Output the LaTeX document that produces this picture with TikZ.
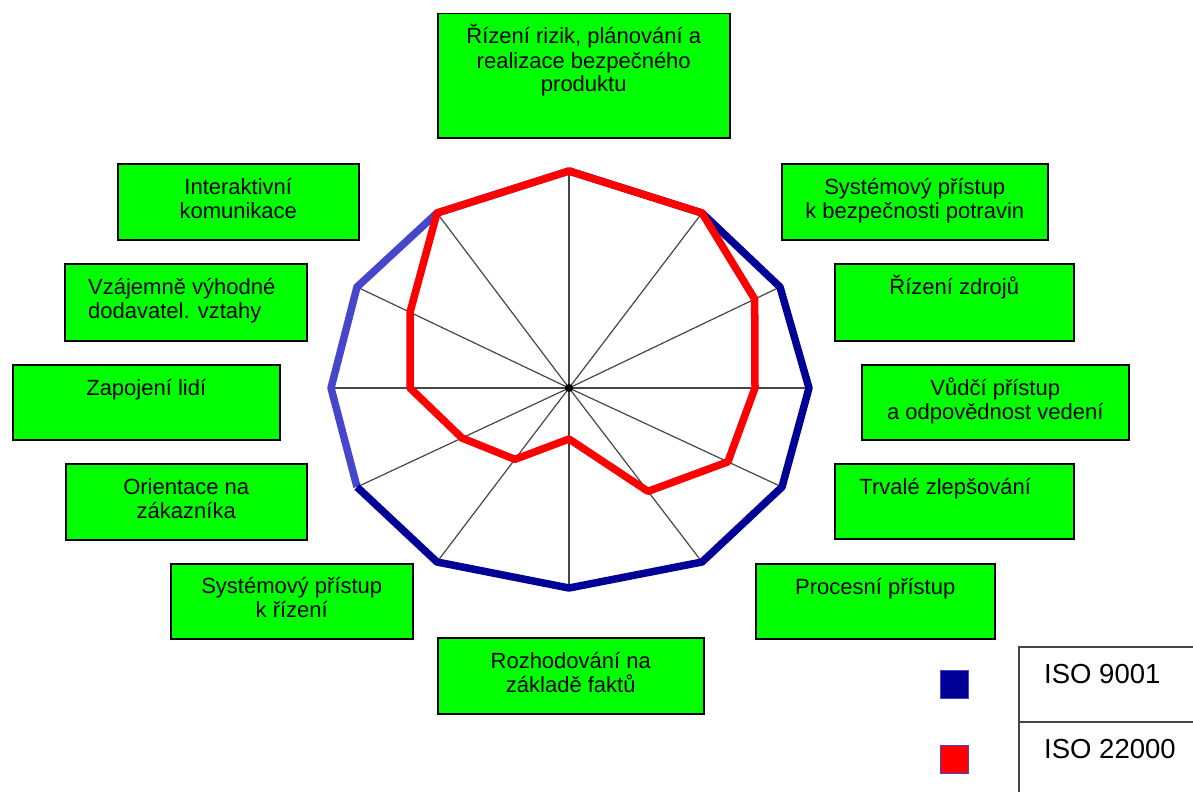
\documentclass[tikz,border=0pt]{standalone}
\usepackage{fontspec}
\setmainfont{Liberation Sans}
\usetikzlibrary{calc}
\definecolor{boxgreen}{RGB}{0,255,0}
\definecolor{isoblue}{RGB}{0,0,150}
\definecolor{isobluelight}{RGB}{70,70,205}
\definecolor{isored}{RGB}{255,0,0}
\definecolor{spokegray}{RGB}{70,70,70}
\newcommand{\boxfont}{\fontsize{22}{24}\selectfont}
\newcommand{\legfont}{\fontsize{27.5}{30}\selectfont}
\tikzset{
  box/.style={draw=black,line width=1.5pt,fill=boxgreen,anchor=north west,inner sep=0pt},
  txt/.style={anchor=base,align=center,inner sep=0pt,font=\boxfont},
  spoke/.style={spokegray,line width=1.2pt},
  isoline/.style={line width=7.5pt,line join=round},
  legsq/.style={minimum size=28pt,inner sep=0pt,draw=isobluelight,line width=1pt},
}
\begin{document}
\begin{tikzpicture}[x=1pt,y=-1pt]
\useasboundingbox (0,0) rectangle (1193,792);


\node [box,minimum width=292,minimum height=124](risk)  at (437,13) {};
\node [box,minimum width=241,minimum height=76](inter)  at (117,163) {};
\node [box,minimum width=242,minimum height=77](vzaj)  at (64,263) {};
\node [box,minimum width=267,minimum height=75](zapoj)  at (12,364) {};
\node [box,minimum width=241,minimum height=76](orient)  at (65,463) {};
\node [box,minimum width=242,minimum height=75](sysriz)  at (170,563) {};
\node [box,minimum width=266,minimum height=76](rozh)  at (437,637) {};
\node [box,minimum width=239,minimum height=75](proc)  at (755,563) {};
\node [box,minimum width=239,minimum height=75](trval)  at (834,463) {};
\node [box,minimum width=267,minimum height=75](vudci)  at (861,364) {};
\node [box,minimum width=239,minimum height=77](zdroj)  at (834,263) {};
\node [box,minimum width=266,minimum height=76](sysbez)  at (781,163) {};

\node [txt](risktxt)  at ([yshift=-79]risk.north) {Řízení rizik, plánování a\\realizace bezpečného\\produktu};
\node [txt](intertxt)  at ([yshift=-55]inter.north) {Interaktivní\\komunikace};
\node [txt,anchor=base west,align=left](vzajtxt)  at ([xshift=24,yshift=-55]vzaj.north west) {Vzájemně výhodné\\dodavatel. vztahy};
\node [txt](zapojtxt)  at ([yshift=-31]zapoj.north) {Zapojení lidí};
\node [txt](orienttxt)  at ([yshift=-55]orient.north) {Orientace na\\zákazníka};
\node [txt](sysriztxt)  at ([yshift=-54]sysriz.north) {Systémový přístup\\k řízení};
\node [txt](rozhtxt)  at ([yshift=-55]rozh.north) {Rozhodování na\\základě faktů};
\node [txt](proctxt)  at ([yshift=-31]proc.north) {Procesní přístup};
\node [txt](trvaltxt)  at ([xshift=-9,yshift=-31]trval.north) {Trvalé zlepšování};
\node [txt](vudcitxt)  at ([yshift=-55]vudci.north) {Vůdčí přístup\\a odpovědnost vedení};
\node [txt](zdrojtxt)  at ([yshift=-31]zdroj.north) {Řízení zdrojů};
\node [txt](sysbeztxt)  at ([yshift=-55]sysbez.north) {Systémový přístup\\k bezpečnosti potravin};


\coordinate (c) at (569,388);
\coordinate (p1) at (569,171);
\coordinate (p2) at (702,213);
\coordinate (p3) at (780,287);
\coordinate (p4) at (809,388);
\coordinate (p5) at (782,487);
\coordinate (p6) at (702,562);
\coordinate (p7) at (569,588);
\coordinate (p8) at (437,562);
\coordinate (p9) at (357,487);
\coordinate (p10) at (331,388);
\coordinate (p11) at (357,287);
\coordinate (p12) at (437,213);

\foreach \i in {1,...,12}
  \draw [spoke] (c)--(p\i);

\draw [isoline,isobluelight] (p9)--(p10)--(p11)--(p12)--(p1);
\draw [isoline,isoblue] (p1)--(p2)--(p3)--(p4)--(p5)--(p6)--(p7)--(p8)--(p9);
\draw [isoline,isored] (p1)--(p2)--($(c)!.88!(p3)$)--($(c)!.775!(p4)$)--($(c)!.746!(p5)$)--($(c)!.594!(p6)$)
  --($(c)!.255!(p7)$)--($(c)!.41!(p8)$)--($(c)!.505!(p9)$)--($(c)!.668!(p10)$)--($(c)!.75!(p11)$)--(p12)--cycle;
\fill [black] (c) circle (4);


\node [legsq,fill=isoblue](sq9001)  at (954,684) {};
\node [legsq,fill=isored](sq22000)  at (954,759) {};
\draw [spokegray,line width=1.5pt] (1193,647)--(1019,647)--(1019,792);
\draw [spokegray,line width=1.5pt] (1019,722)--(1193,722);
\node [anchor=base west,inner sep=0pt,font=\legfont](iso9001)  at (1044,683) {ISO 9001};
\node [anchor=base west,inner sep=0pt,font=\legfont](iso22000)  at (1044,758) {ISO 22000};


\end{tikzpicture}
\end{document}
